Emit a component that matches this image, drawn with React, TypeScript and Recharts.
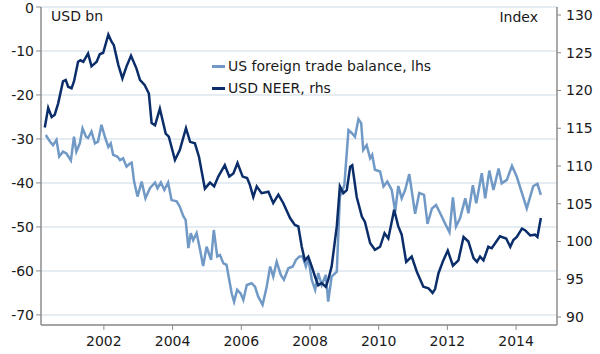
import React from 'react';
import { LineChart, Line, XAxis, YAxis, CartesianGrid } from 'recharts';

// US foreign trade balance, USD bn (lhs)
const tradeDates = [
  2000.31, 2000.43, 2000.52, 2000.62, 2000.7, 2000.81, 2000.91, 2001.04, 2001.13, 2001.2,
  2001.3, 2001.38, 2001.48, 2001.54, 2001.64, 2001.74, 2001.83, 2001.93, 2002.03, 2002.13,
  2002.2, 2002.27, 2002.39, 2002.47, 2002.56, 2002.66, 2002.76, 2002.81, 2002.88, 2002.98,
  2003.1, 2003.21, 2003.34, 2003.49, 2003.56, 2003.66, 2003.76, 2003.87, 2003.97, 2004.12,
  2004.21, 2004.31, 2004.38, 2004.46, 2004.53, 2004.6, 2004.7, 2004.8, 2004.89, 2004.99,
  2005.12, 2005.2, 2005.3, 2005.38, 2005.48, 2005.57, 2005.72, 2005.79, 2005.88, 2005.98,
  2006.06, 2006.16, 2006.3, 2006.4, 2006.49, 2006.62, 2006.74, 2006.84, 2006.93, 2007.03,
  2007.15, 2007.24, 2007.37, 2007.5, 2007.59, 2007.69, 2007.78, 2007.88, 2007.95, 2008.05,
  2008.15, 2008.24, 2008.34, 2008.46, 2008.53, 2008.63, 2008.78, 2008.87, 2009.0, 2009.12,
  2009.22, 2009.31, 2009.41, 2009.49, 2009.55, 2009.65, 2009.75, 2009.81, 2009.89, 2010.04,
  2010.14, 2010.25, 2010.38, 2010.48, 2010.57, 2010.67, 2010.77, 2010.89, 2011.06, 2011.18,
  2011.32, 2011.42, 2011.55, 2011.67, 2011.79, 2011.93, 2012.06, 2012.16, 2012.25, 2012.37,
  2012.52, 2012.61, 2012.74, 2012.84, 2013.0, 2013.1, 2013.22, 2013.34, 2013.49, 2013.58,
  2013.73, 2013.88, 2014.02, 2014.17, 2014.31, 2014.41, 2014.5, 2014.62, 2014.72,
];
const tradeValues = [
  -29.1, -30.6, -31.4, -30.2, -34.0, -32.9, -33.3, -34.9, -29.5, -32.9,
  -31.0, -27.6, -29.5, -29.8, -28.3, -31.0, -30.6, -26.8, -29.5, -31.8,
  -31.0, -33.6, -34.0, -34.8, -34.4, -36.3, -35.6, -35.4, -39.7, -43.1,
  -39.7, -43.5, -41.2, -39.9, -41.2, -39.9, -41.6, -39.9, -43.9, -44.2,
  -45.4, -47.5, -48.4, -54.8, -51.4, -53.0, -51.4, -55.2, -58.9, -54.5,
  -57.5, -50.7, -56.7, -56.4, -58.3, -58.6, -65.1, -67.0, -64.3, -65.1,
  -66.6, -63.2, -62.8, -63.6, -65.8, -67.7, -63.6, -59.0, -61.3, -57.9,
  -60.9, -62.0, -59.4, -59.0, -57.5, -56.7, -56.7, -59.0, -57.1, -62.0,
  -64.3, -60.5, -63.2, -60.9, -67.0, -61.3, -60.2, -43.1, -40.5, -28.0,
  -28.7, -29.5, -25.5, -26.4, -32.5, -31.4, -34.4, -33.6, -37.0, -37.4,
  -40.8, -39.7, -41.6, -46.5, -40.7, -43.5, -41.6, -38.0, -47.0, -42.3,
  -42.7, -49.3, -45.8, -45.0, -46.9, -49.2, -51.2, -43.3, -49.9, -48.0,
  -43.5, -46.9, -40.5, -44.6, -37.8, -43.5, -37.2, -41.6, -36.7, -40.1,
  -39.3, -36.1, -38.6, -42.3, -45.8, -43.1, -40.7, -40.2, -42.7,
];

// USD NEER, index (rhs)
const neerDates = [
  2000.28, 2000.38, 2000.48, 2000.57, 2000.67, 2000.81, 2000.89, 2000.96, 2001.06, 2001.13,
  2001.25, 2001.32, 2001.4, 2001.54, 2001.64, 2001.79, 2001.88, 2001.98, 2002.13, 2002.22,
  2002.29, 2002.42, 2002.54, 2002.66, 2002.79, 2002.95, 2003.05, 2003.19, 2003.31, 2003.39,
  2003.49, 2003.63, 2003.8, 2003.89, 2004.07, 2004.21, 2004.39, 2004.51, 2004.65, 2004.77,
  2004.94, 2005.09, 2005.21, 2005.33, 2005.52, 2005.65, 2005.77, 2005.89, 2006.04, 2006.17,
  2006.25, 2006.35, 2006.45, 2006.59, 2006.79, 2006.93, 2007.08, 2007.22, 2007.42, 2007.56,
  2007.66, 2007.76, 2007.85, 2007.95, 2008.05, 2008.15, 2008.24, 2008.34, 2008.46, 2008.53,
  2008.63, 2008.78, 2008.87, 2008.97, 2009.07, 2009.17, 2009.23, 2009.36, 2009.51, 2009.6,
  2009.75, 2009.89, 2010.04, 2010.17, 2010.28, 2010.45, 2010.57, 2010.67, 2010.8, 2010.96,
  2011.11, 2011.3, 2011.45, 2011.57, 2011.64, 2011.74, 2011.88, 2012.01, 2012.16, 2012.32,
  2012.47, 2012.61, 2012.76, 2012.86, 2012.95, 2013.05, 2013.19, 2013.29, 2013.53, 2013.71,
  2013.83, 2013.92, 2014.02, 2014.17, 2014.26, 2014.41, 2014.55, 2014.62, 2014.72,
];
const neerValues = [
  115.1, 117.7, 116.5, 116.8, 118.3, 121.2, 121.4, 120.5, 120.3, 121.2,
  123.8, 124.0, 123.8, 124.9, 123.2, 123.8, 124.8, 125.0, 127.4, 126.5,
  126.0, 123.4, 121.6, 123.2, 124.6, 122.9, 121.4, 120.7, 119.6, 115.7,
  115.4, 117.6, 114.3, 113.9, 110.8, 112.1, 115.0, 113.2, 113.0, 111.2,
  107.0, 107.8, 107.3, 108.6, 110.1, 108.6, 109.0, 110.4, 108.6, 108.4,
  107.5, 105.9, 107.3, 106.4, 106.6, 105.1, 106.2, 105.1, 103.1, 102.2,
  102.0, 99.3, 97.5, 98.0, 96.7, 95.3, 94.2, 94.5, 94.0, 94.9,
  96.7, 102.0, 107.3, 106.4, 106.8, 109.9, 110.1, 105.9, 103.3, 102.6,
  99.8, 98.9, 99.3, 101.1, 100.4, 104.2, 102.0, 100.9, 97.3, 98.0,
  96.0, 94.0, 93.8, 93.2, 93.7, 95.8, 97.5, 98.8, 96.8, 97.5,
  100.6, 100.0, 97.8, 97.3, 98.0, 97.5, 99.3, 99.1, 100.7, 100.4,
  99.3, 100.2, 100.6, 101.7, 101.5, 100.8, 100.9, 100.6, 103.1,
];

const yearTicks = [2002, 2004, 2006, 2008, 2010, 2012, 2014];
const lhsTicks = [-70, -60, -50, -40, -30, -20, -10, 0];
const rhsTicks = [90, 95, 100, 105, 110, 115, 120, 125, 130];

const tradeData = tradeDates.map((date, i) => ({ date, value: tradeValues[i] }));
const neerData = neerDates.map((date, i) => ({ date, value: neerValues[i] }));

const LIGHT = '#7199c6';
const DARK = '#0b2e6a';
const AXIS = '#8c8c8c';
const FONT = '"DejaVu Sans", Verdana, sans-serif';

const tickStyle = { fontSize: 14, fill: '#1a1a1a', fontFamily: FONT };

export default function App() {
  return (
    <div style={{ position: 'absolute', left: 0, top: 0, width: 600, height: 354, background: '#fff', fontFamily: FONT }}>
      <LineChart width={600} height={354} margin={{ top: 7, right: 0, bottom: 0, left: 0 }}>
        <CartesianGrid yAxisId="left" vertical={false} stroke="#dde6ee" strokeWidth={1.5} />
        <XAxis
          type="number"
          dataKey="date"
          domain={[2000.17, 2015.19]}
          ticks={yearTicks}
          allowDataOverflow
          height={29}
          tick={tickStyle}
          tickSize={5}
          tickMargin={6}
          tickLine={{ stroke: AXIS }}
          axisLine={{ stroke: AXIS, strokeWidth: 1.5 }}
        />
        <YAxis
          yAxisId="left"
          orientation="left"
          domain={[-72.3, 0]}
          ticks={lhsTicks}
          allowDataOverflow
          width={41}
          tick={tickStyle}
          tickSize={5}
          tickMargin={2}
          tickLine={{ stroke: AXIS }}
          axisLine={{ stroke: AXIS, strokeWidth: 1.5 }}
        />
        <YAxis
          yAxisId="right"
          orientation="right"
          domain={[88.94, 131.06]}
          ticks={rhsTicks}
          allowDataOverflow
          width={43}
          tick={tickStyle}
          tickSize={4}
          tickMargin={5}
          tickLine={{ stroke: AXIS }}
          axisLine={{ stroke: AXIS, strokeWidth: 1.5 }}
        />
        <Line
          data={tradeData}
          yAxisId="left"
          dataKey="value"
          stroke={LIGHT}
          strokeWidth={2.5}
          dot={false}
          isAnimationActive={false}
        />
        <Line
          data={neerData}
          yAxisId="right"
          dataKey="value"
          stroke={DARK}
          strokeWidth={2.5}
          dot={false}
          isAnimationActive={false}
        />
      </LineChart>

      <div style={{ position: 'absolute', left: 51, top: 8, fontSize: 14, color: '#1a1a1a' }}>USD bn</div>
      <div style={{ position: 'absolute', right: 62, top: 9, fontSize: 14, color: '#1a1a1a' }}>Index</div>

      <div style={{ position: 'absolute', left: 212, top: 55, fontSize: 14, color: '#1a1a1a', lineHeight: '22px' }}>
        <div style={{ display: 'flex', alignItems: 'center' }}>
          <span style={{ display: 'inline-block', width: 13, height: 3, background: LIGHT, marginRight: 3 }} />
          US foreign trade balance, lhs
        </div>
        <div style={{ display: 'flex', alignItems: 'center' }}>
          <span style={{ display: 'inline-block', width: 13, height: 3, background: DARK, marginRight: 3 }} />
          USD NEER, rhs
        </div>
      </div>
    </div>
  );
}
